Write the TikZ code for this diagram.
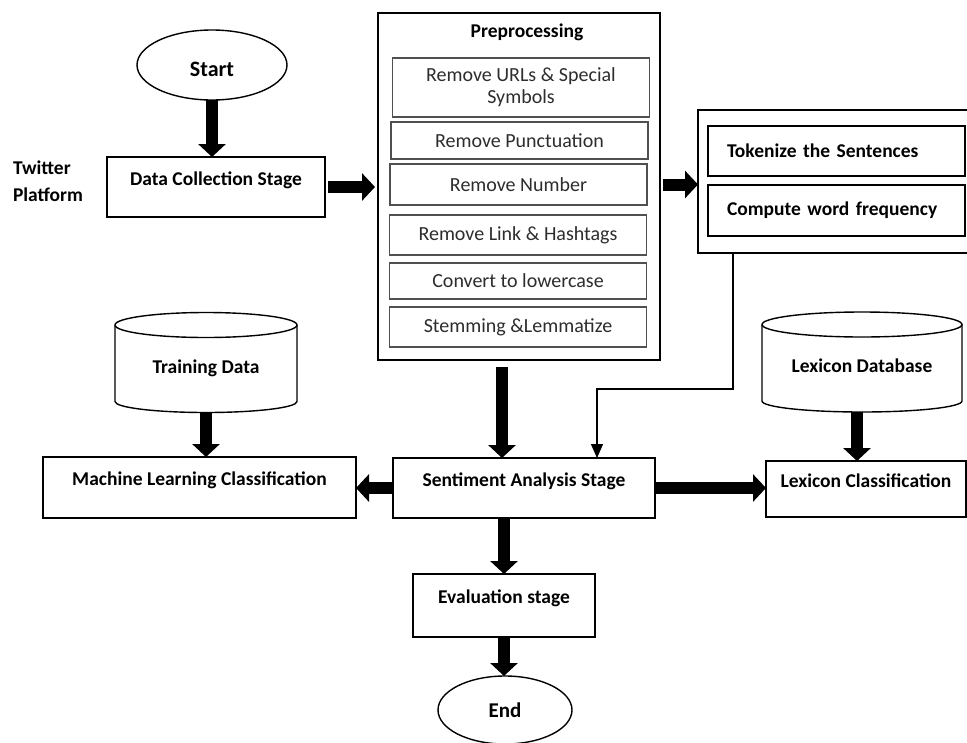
\documentclass[tikz,border=0pt]{standalone}
\usepackage{fontspec}
\setmainfont{Carlito}
\usepackage{tikz}
\usetikzlibrary{arrows.meta,shapes.geometric}

\begin{document}
\begin{tikzpicture}[x=1pt,y=-1pt,
  stagebox/.style={draw=black,line width=1.1pt,inner sep=0pt,outer sep=0pt,text height=13pt,text depth=17pt,font=\bfseries\fontsize{19.5}{23}\selectfont},
  terminal/.style={draw=black,ellipse,line width=1.4pt,inner sep=0pt,outer sep=0pt,font=\bfseries\fontsize{22}{26}\selectfont},
  frame/.style={draw=black,line width=2pt,inner sep=0pt,outer sep=0pt},
  prestep/.style={draw={rgb,255:red,80;green,80;blue,80},line width=1.1pt,inner sep=0pt,outer sep=0pt,minimum width=257pt,align=center,text={rgb,255:red,45;green,45;blue,45},font=\fontsize{20}{22}\selectfont},
  tokstep/.style={draw=black,line width=1.1pt,outer sep=0pt,inner ysep=0pt,inner xsep=19pt,text width=219pt,align=left,font=\bfseries\fontsize{19.5}{23}\selectfont},
  dbnode/.style={inner sep=0pt,outer sep=0pt,minimum height=100pt,text height=25pt,text depth=4pt,font=\bfseries\fontsize{19.5}{23}\selectfont},
  dbline/.style={draw=black,line width=1.4pt},
  plainlabel/.style={inner sep=0pt,outer sep=0pt,font=\bfseries\fontsize{19.5}{27}\selectfont},
  fatarrow/.style={draw=black,line width=12pt,-{Triangle[length=13pt,width=27pt]}},
  thinarrow/.style={draw=black,line width=1.3pt,-{Triangle[length=14pt,width=12pt]}}]
\path[use as bounding box] (0,0) rectangle (967,742);
\path[fill=white,draw=none] (0,0) rectangle (967,742);

% start and data collection
\node[terminal,minimum width=150pt,minimum height=70pt,text height=24pt,text depth=2pt] (start) at (212,65) {Start};
\node[stagebox,minimum width=218pt,minimum height=60pt] (collect) at (216,187) {Data Collection Stage};
\node[plainlabel,align=left,anchor=west] (twitter) at (13,181) {Twitter\\Platform};

% preprocessing block
\node[frame,minimum width=282pt,minimum height=347pt] (pre) at (519,186.5) {};
\node[plainlabel] (pretitle) at (527,32) {Preprocessing};
\node[prestep,minimum height=59pt] (urls) at (521,87.5) {Remove URLs \& Special\\Symbols};
\node[prestep,minimum height=37pt] (punct) at (519.5,140.5) {Remove Punctuation};
\node[prestep,minimum height=41pt] (number) at (518.5,184.5) {Remove Number};
\node[prestep,minimum height=40pt] (hashtag) at (518,235) {Remove Link \& Hashtags};
\node[prestep,minimum height=36pt] (lower) at (518,281) {Convert to lowercase};
\node[prestep,minimum height=40pt] (stem) at (518,327) {Stemming \&Lemmatize};

% tokenizing block
\node[frame,minimum width=274pt,minimum height=143pt] (tok) at (835,181.5) {};
\node[tokstep,minimum height=50pt] (tokenize) at (836.5,151) {Tokenize the Sentences};
\node[tokstep,minimum height=51pt] (freq) at (836.5,210.5) {Compute word frequency};

% databases
\node[dbnode,minimum width=182pt] (train) at (206,362.5) {Training Data};
\draw[dbline] ([yshift=-12.5pt]train.north west) -- ([yshift=11pt]train.south west) arc[start angle=180,end angle=0,x radius=91,y radius=11] -- ([yshift=-12.5pt]train.north east);
\draw[dbline] ([yshift=-12.5pt]train.north) ellipse[x radius=91,y radius=12.5];
\node[dbnode,minimum width=200pt] (lexdb) at (862,362) {Lexicon Database};
\draw[dbline] ([yshift=-12.5pt]lexdb.north west) -- ([yshift=11pt]lexdb.south west) arc[start angle=180,end angle=0,x radius=100,y radius=11] -- ([yshift=-12.5pt]lexdb.north east);
\draw[dbline] ([yshift=-12.5pt]lexdb.north) ellipse[x radius=100,y radius=12.5];

% analysis row
\node[stagebox,minimum width=313pt,minimum height=61pt] (ml) at (199.5,487.5) {Machine Learning Classification};
\node[stagebox,minimum width=262pt,minimum height=60pt] (sent) at (524,488) {Sentiment Analysis Stage};
\node[stagebox,minimum width=200pt,minimum height=56pt] (lexc) at (866,489) {Lexicon Classification};

% evaluation and end
\node[stagebox,minimum width=182pt,minimum height=63pt] (eval) at (504,605.5) {Evaluation stage};
\node[terminal,minimum width=134pt,minimum height=68pt,font=\bfseries\fontsize{21}{25}\selectfont] (end) at (505,710) {End};

% connectors
\coordinate (turn) at (597,389);
\draw[fatarrow] (start.south) -- (start.south |- collect.north);
\draw[fatarrow,shorten <=3pt,shorten >=3pt] (collect.east) -- (collect.east -| pre.west);
\draw[fatarrow,shorten <=3pt] (pre.east |- number) -- (number -| tok.west);
\draw[fatarrow,shorten <=7pt] ([xshift=-17pt]pre.south) -- ([xshift=-17pt]pre.south |- sent.north);
\draw[thinarrow] ([xshift=35pt]tok.south west) |- (turn) -- (turn |- sent.north);
\draw[fatarrow] (train.south) -- (train.south |- ml.north);
\draw[fatarrow] ([xshift=-5pt]lexdb.south) -- ([xshift=-5pt]lexdb.south |- lexc.north);
\draw[fatarrow] (sent.west) -- (sent.west -| ml.east);
\draw[fatarrow] (sent.east) -- (sent.east -| lexc.west);
\draw[fatarrow] (sent.south -| eval.north) -- (eval.north);
\draw[fatarrow] (eval.south) -- (eval.south |- end.north);
\end{tikzpicture}
\end{document}
